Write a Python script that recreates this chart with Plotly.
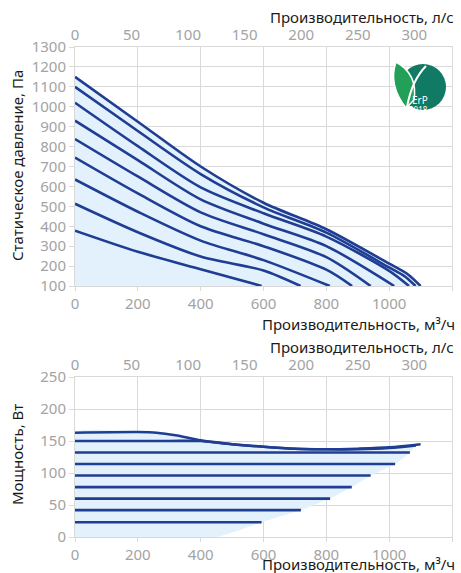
import plotly.graph_objects as go

# ---------------- data ----------------
# Pressure curves (m3/h -> Pa)
c1_q = [0, 200, 400, 600, 800, 1000, 1060, 1100]
c1_p = [1150, 925, 700, 518, 385, 212, 158, 100]
c2_q = [0, 200, 400, 600, 800, 1000, 1050, 1084]
c2_p = [1100, 878, 662, 495, 368, 193, 148, 100]
c3_q = [0, 200, 400, 600, 800, 1000, 1063]
c3_p = [1020, 802, 595, 465, 348, 176, 100]
c4_q = [0, 200, 400, 600, 800, 1016]
c4_p = [930, 732, 535, 413, 300, 100]
c5_q = [0, 200, 400, 600, 800, 941]
c5_p = [838, 650, 470, 360, 245, 100]
c6_q = [0, 200, 400, 600, 800, 882]
c6_p = [745, 565, 400, 300, 182, 100]
c7_q = [0, 200, 400, 600, 811]
c7_p = [635, 473, 328, 230, 100]
c8_q = [0, 200, 400, 600, 718]
c8_p = [513, 370, 248, 178, 100]
c9_q = [0, 200, 400, 594]
c9_p = [378, 272, 184, 100]
pressure_curves = [(c1_q, c1_p), (c2_q, c2_p), (c3_q, c3_p), (c4_q, c4_p), (c5_q, c5_p),
                   (c6_q, c6_p), (c7_q, c7_p), (c8_q, c8_p), (c9_q, c9_p)]

# Power curves (m3/h -> W)
w1_q = [0, 200, 260, 320, 400, 500, 600, 700, 800, 900, 1000, 1100]
w1_p = [163, 164, 163, 159, 151, 145, 141, 138, 137, 138, 140, 145]
w2_q = [0, 300, 400, 500, 600, 700, 800, 900, 1000, 1085]
w2_p = [150, 150, 150, 145, 141, 138, 137, 137, 139, 143]
flat_levels = [132, 114, 96, 78, 60, 42, 23]
flat_ends = [1066, 1019, 941, 881, 812, 719, 594]
edge_q = [450, 594, 719, 812, 881, 941, 1019, 1066, 1085]
edge_p = [0, 23, 42, 60, 78, 96, 114, 132, 143]

x_ticks_m3h = [0, 200, 400, 600, 800, 1000, 1200]
x_ticks_ls = [0, 50, 100, 150, 200, 250, 300]
p_ticks = list(range(100, 1301, 100))
w_ticks = list(range(0, 251, 50))

# ---------------- style ----------------
LINE = "#1f3d92"
FILL = "#e2f1fc"
GRID = "#d9d9d9"
TICKC = "#a3a3a3"
FONT = "Noto Sans"

W, H = 461, 573
ML, MR, MT, MB = 75, 9, 47, 36
PW, PH = W - ML - MR, H - MT - MB


def px(xp):
    return (xp - ML) / PW


def py(yp):
    return (H - MB - yp) / PH


fig = go.Figure()

# Top chart fill (under the envelope)
fig.add_trace(go.Scatter(x=c1_q, y=c1_p, mode="lines", line=dict(width=0, shape="spline", smoothing=0.8),
                         fill="tozeroy", fillcolor=FILL, hoverinfo="skip", showlegend=False,
                         xaxis="x", yaxis="y"))
for q, p in pressure_curves:
    fig.add_trace(go.Scatter(x=q, y=p, mode="lines",
                             line=dict(color=LINE, width=2.6, shape="spline", smoothing=0.8),
                             showlegend=False, xaxis="x", yaxis="y"))
# dummy for l/s axis top chart
fig.add_trace(go.Scatter(x=[0, 1200 / 3.6], y=[None, None], mode="lines", showlegend=False,
                         xaxis="x2", yaxis="y", hoverinfo="skip"))

# Bottom chart fill
fx = [0] + edge_q + w1_q[::-1] + [0]
fy = [0] + edge_p + w1_p[::-1] + [0]
fig.add_trace(go.Scatter(x=fx, y=fy, mode="lines", line=dict(width=0, shape="spline", smoothing=0.5),
                         fill="toself", fillcolor=FILL, hoverinfo="skip", showlegend=False,
                         xaxis="x3", yaxis="y2"))
fig.add_trace(go.Scatter(x=w2_q, y=w2_p, mode="lines",
                         line=dict(color=LINE, width=2.6, shape="spline", smoothing=0.8),
                         showlegend=False, xaxis="x3", yaxis="y2"))
fig.add_trace(go.Scatter(x=w1_q, y=w1_p, mode="lines",
                         line=dict(color=LINE, width=2.6, shape="spline", smoothing=0.8),
                         showlegend=False, xaxis="x3", yaxis="y2"))
for lvl, end in zip(flat_levels, flat_ends):
    fig.add_trace(go.Scatter(x=[0, end], y=[lvl, lvl], mode="lines",
                             line=dict(color=LINE, width=2.6),
                             showlegend=False, xaxis="x3", yaxis="y2"))
fig.add_trace(go.Scatter(x=[0, 1200 / 3.6], y=[None, None], mode="lines", showlegend=False,
                         xaxis="x4", yaxis="y2", hoverinfo="skip"))

top_dom = [py(286), 1]
bot_dom = [0, py(377)]

tickfont = dict(family=FONT, size=15, color=TICKC)
common_x = dict(range=[0, 1200], tickvals=x_ticks_m3h, showgrid=True, gridcolor=GRID, gridwidth=1,
                showline=True, linecolor=GRID, linewidth=1, ticks="outside", ticklen=4, tickcolor=GRID,
                tickfont=tickfont, zeroline=False, fixedrange=True)
common_x2 = dict(range=[0, 1200 / 3.6], tickvals=x_ticks_ls, showgrid=False, side="top",
                 showline=True, linecolor=GRID, linewidth=1, ticks="", tickfont=tickfont,
                 zeroline=False)

fig.update_layout(
    width=W, height=H, margin=dict(l=ML, r=MR, t=MT, b=MB),
    paper_bgcolor="white", plot_bgcolor="white",
    font=dict(family=FONT, size=15, color="#222"),
    xaxis=dict(common_x, anchor="y", domain=[0, 1]),
    xaxis2=dict(common_x2, overlaying="x", anchor="y"),
    yaxis=dict(domain=top_dom, range=[100, 1300], tickvals=p_ticks, showgrid=True, gridcolor=GRID,
               showline=True, linecolor=GRID, mirror=True, ticks="outside", ticklen=5, tickcolor=GRID,
               tickfont=tickfont, zeroline=False, anchor="x"),
    xaxis3=dict(common_x, anchor="y2", domain=[0, 1]),
    xaxis4=dict(common_x2, overlaying="x3", anchor="y2"),
    yaxis2=dict(domain=bot_dom, range=[0, 250], tickvals=w_ticks, showgrid=True, gridcolor=GRID,
                showline=True, linecolor=GRID, mirror=True, ticks="outside", ticklen=5, tickcolor=GRID,
                tickfont=tickfont, zeroline=False, anchor="x3"),
)

title_font = dict(family=FONT, size=15, color="#1a1a1a")
ann = [
    dict(text="Производительность, л/с", x=px(456), y=py(17), xanchor="right", yanchor="middle"),
    dict(text="Производительность, м³/ч", x=px(457), y=py(324), xanchor="right", yanchor="middle"),
    dict(text="Производительность, л/с", x=px(456), y=py(347), xanchor="right", yanchor="middle"),
    dict(text="Производительность, м³/ч", x=px(457), y=py(564), xanchor="right", yanchor="middle"),
    dict(text="Статическое давление, Па", x=px(17), y=py(166), xanchor="center", yanchor="middle",
         textangle=-90),
    dict(text="Мощность, Вт", x=px(17), y=py(455), xanchor="center", yanchor="middle", textangle=-90),
]
for a in ann:
    fig.add_annotation(xref="paper", yref="paper", showarrow=False, font=title_font, **a)

# ErP logo
cx, cy, r = 423, 87, 23
fig.add_shape(type="circle", xref="paper", yref="paper",
              x0=px(cx - r), x1=px(cx + r), y0=py(cy + r), y1=py(cy - r),
              fillcolor="#117a64", line=dict(width=0), layer="above")
leaf = (f"M {px(406)},{py(108)} Q {px(388)},{py(85)} {px(396)},{py(62)} "
        f"Q {px(418)},{py(74)} {px(414)},{py(100)} Z")
fig.add_shape(type="path", xref="paper", yref="paper", path=leaf,
              fillcolor="#22a058", line=dict(color="white", width=1.5), layer="above")
stem = f"M {px(407)},{py(107)} Q {px(412)},{py(80)} {px(426)},{py(66)}"
fig.add_shape(type="path", xref="paper", yref="paper", path=stem,
              line=dict(color="white", width=2), layer="above")
fig.add_annotation(xref="paper", yref="paper", x=px(430), y=py(91), text="ErP", showarrow=False,
                   font=dict(family=FONT, size=10, color="white"))
fig.add_annotation(xref="paper", yref="paper", x=px(430), y=py(102), text="2018", showarrow=False,
                   font=dict(family=FONT, size=8, color="white"))

fig.write_html("out.html", config={"displayModeBar": False},
               post_script="document.body.style.margin='0';document.body.style.overflow='hidden';")
